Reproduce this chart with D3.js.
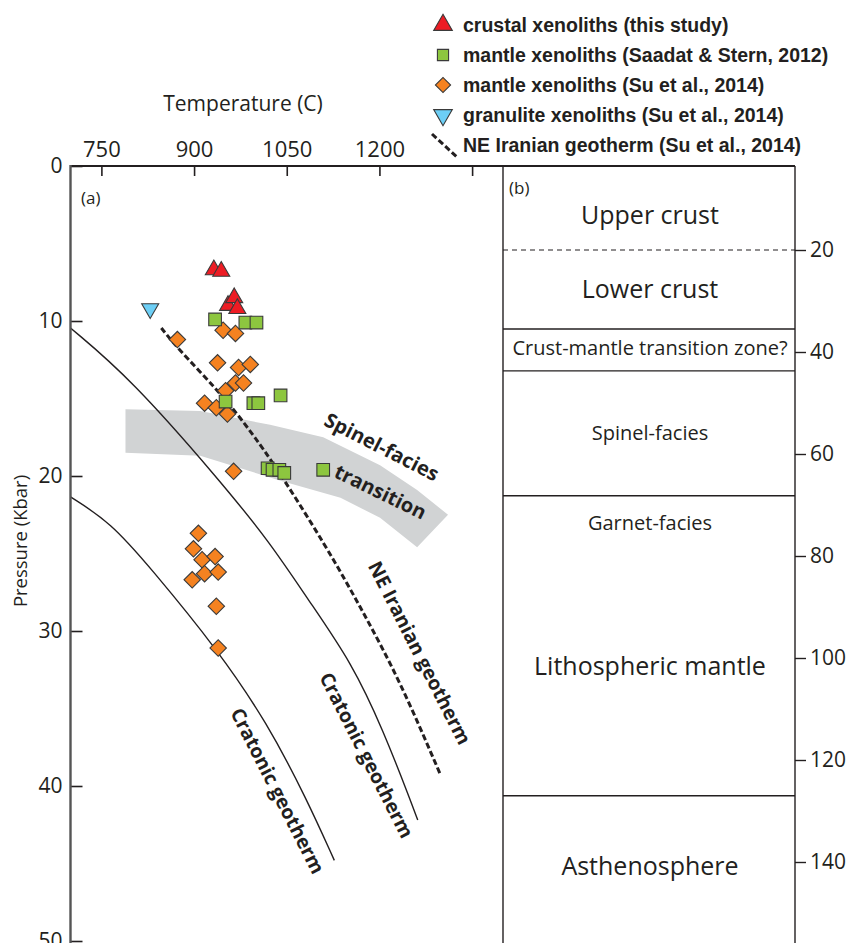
<!DOCTYPE html>
<html>
<head>
<meta charset="utf-8">
<script src="https://cdn.jsdelivr.net/npm/d3@7"></script>
<style>
  body { margin: 0; background: #fff; }
  svg text { fill: #231f20; }
</style>
</head>
<body>
<svg id="chart" width="851" height="943"></svg>
<script>
///////////// data ////////////////
const tempTicks = [750, 900, 1050, 1200, 1350];
const tempTickLabels = ["750", "900", "1050", "1200", ""];
const pressTicks = [0, 10, 20, 30, 40, 50];
const depthTicks = [20, 40, 60, 80, 100, 120, 140];

// [temperature C, pressure kbar]
const crustalXenoliths = [[932, 6.7], [944, 6.8], [955, 9.0], [965, 8.5], [970, 9.2]];
const granuliteXenoliths = [[829, 9.2]];
const saadatXenoliths = [
  [934, 9.9], [983, 10.1], [1001, 10.1], [951, 15.2], [996, 15.3], [1004, 15.3],
  [1040, 14.8], [1019, 19.5], [1027, 19.6], [1038, 19.6], [1046, 19.8], [1109, 19.6]
];
const suXenoliths = [
  [873, 11.2], [947, 10.6], [967, 10.8], [938, 12.7], [972, 13.0], [991, 12.8],
  [967, 14.0], [980, 14.0], [951, 14.5], [917, 15.3], [936, 15.6], [954, 16.0],
  [964, 19.7], [907, 23.7], [899, 24.7], [913, 25.4], [934, 25.2], [917, 26.3],
  [939, 26.2], [897, 26.7], [936, 28.4], [939, 31.1]
];

const neIranGeotherm = [
  [847, 10.45], [872, 11.7], [938, 14.45], [974, 16.2], [1023, 18.8],
  [1115, 24.6], [1174, 28.8], [1233, 33.2], [1298, 39.2]
];
const cratonicGeotherm1 = [
  [700, 10.45], [797, 13.7], [942, 20.3], [1023, 24.3], [1085, 28.0],
  [1156, 32.1], [1206, 36.4], [1250, 40.9], [1262, 42.2]
];
const cratonicGeotherm2 = [
  [700, 21.35], [765, 23.0], [829, 25.9], [938, 31.2], [1018, 35.9],
  [1083, 40.9], [1127, 44.8]
];
const spinelBand = [
  [789, 15.7], [910, 15.8], [1023, 16.7], [1109, 17.5], [1201, 19.3], [1261, 20.9], [1311, 22.5],
  [1261, 24.6], [1201, 22.7], [1137, 21.4], [1040, 20.3], [910, 18.7], [789, 18.5]
];

// panel (b): depth in km
const dashedBoundary = [20];
const solidBoundaries = [35.5, 43.7, 68.2, 127];
const layerNames = ["Upper crust", "Lower crust", "Crust-mantle transition zone?",
  "Spinel-facies", "Garnet-facies", "Lithospheric mantle", "Asthenosphere"];
const layerDepths = [12.9, 27.5, 39.2, 55.7, 73.5, 101.4, 140.6];

const legendLabels = [
  "crustal xenoliths (this study)",
  "mantle xenoliths (Saadat & Stern, 2012)",
  "mantle xenoliths (Su et al., 2014)",
  "granulite xenoliths (Su et al., 2014)",
  "NE Iranian geotherm (Su et al., 2014)"
];

///////////// scales ////////////////
const svg = d3.select("#chart");
const FONT = "'Open Sans', sans-serif";
const ink = "#231f20";

const x = d3.scaleLinear().domain([700, 1400]).range([70.5, 503]);
const y = d3.scaleLinear().domain([0, 50]).range([166, 941]);
const depth = d3.scaleLinear().domain([0, 100]).range([148, 658]);

const panelTop = y(0), panelBottom = 960;
const bLeft = 503, bRight = 795;

///////////// spinel band ////////////////
const line = d3.line().x(d => x(d[0])).y(d => y(d[1]));

svg.append("path")
  .attr("d", line.curve(d3.curveLinearClosed)(spinelBand))
  .attr("fill", "#d1d3d4");

///////////// geotherms ////////////////
const smooth = d3.line().x(d => x(d[0])).y(d => y(d[1])).curve(d3.curveBasis);

[cratonicGeotherm1, cratonicGeotherm2].forEach(function(c) {
  svg.append("path").attr("d", smooth(c))
    .attr("fill", "none").attr("stroke", ink).attr("stroke-width", 1.4);
});
svg.append("path").attr("d", smooth(neIranGeotherm))
  .attr("fill", "none").attr("stroke", ink).attr("stroke-width", 3)
  .attr("stroke-dasharray", "6,3");

///////////// axes ////////////////
const topAxis = d3.axisTop(x).tickValues(tempTicks)
  .tickFormat((d, i) => tempTickLabels[i]).tickSizeInner(-10).tickSizeOuter(0).tickPadding(9);
const gTop = svg.append("g").attr("transform", "translate(0," + panelTop + ")").call(topAxis);
gTop.select(".domain").remove();
gTop.selectAll("line").attr("stroke", ink).attr("stroke-width", 1.6);
gTop.selectAll("text").attr("font-family", FONT).attr("font-size", 22).style("fill", ink);

const leftAxis = d3.axisLeft(y).tickValues(pressTicks).tickSizeInner(-12).tickSizeOuter(0).tickPadding(8);
const gLeft = svg.append("g").attr("transform", "translate(70.5,0)").call(leftAxis);
gLeft.select(".domain").remove();
gLeft.selectAll("line").attr("stroke", ink).attr("stroke-width", 1.6);
gLeft.selectAll("text").attr("font-family", FONT).attr("font-size", 21).style("fill", ink);

const rightAxis = d3.axisRight(depth).tickValues(depthTicks).tickSize(11).tickPadding(4);
const gRight = svg.append("g").attr("transform", "translate(" + bRight + ",0)").call(rightAxis);
gRight.select(".domain").remove();
gRight.selectAll("line").attr("stroke", ink).attr("stroke-width", 1.4);
gRight.selectAll("text").attr("font-family", FONT).attr("font-size", 21).style("fill", ink);

// frame lines
svg.append("line").attr("x1", 70.5).attr("x2", bRight).attr("y1", panelTop).attr("y2", panelTop)
  .attr("stroke", ink).attr("stroke-width", 1.8);
svg.append("line").attr("x1", 70.5).attr("x2", 70.5).attr("y1", panelTop - 1).attr("y2", panelBottom)
  .attr("stroke", "#555").attr("stroke-width", 2.4);
[bLeft, bRight].forEach(function(px) {
  svg.append("line").attr("x1", px).attr("x2", px).attr("y1", panelTop).attr("y2", panelBottom)
    .attr("stroke", ink).attr("stroke-width", 1.4);
});

svg.append("text").attr("x", 243).attr("y", 103).attr("text-anchor", "middle")
  .attr("dominant-baseline", "central").attr("font-family", FONT).attr("font-size", 21)
  .text("Temperature (C)");
svg.append("text").attr("transform", "translate(19,541) rotate(-90)").attr("text-anchor", "middle")
  .attr("dominant-baseline", "central").attr("font-family", FONT).attr("font-size", 18.5)
  .text("Pressure (Kbar)");

svg.append("text").attr("x", 81).attr("y", 197).attr("dominant-baseline", "central")
  .attr("font-family", FONT).attr("font-size", 17).text("(a)");
svg.append("text").attr("x", 509).attr("y", 187).attr("dominant-baseline", "central")
  .attr("font-family", FONT).attr("font-size", 17).text("(b)");

///////////// panel (b) layers ////////////////
svg.selectAll(".bound").data(solidBoundaries).enter().append("line")
  .attr("x1", bLeft).attr("x2", bRight)
  .attr("y1", d => depth(d)).attr("y2", d => depth(d))
  .attr("stroke", ink).attr("stroke-width", 1.4);
svg.selectAll(".dbound").data(dashedBoundary).enter().append("line")
  .attr("x1", bLeft).attr("x2", bRight)
  .attr("y1", d => depth(d)).attr("y2", d => depth(d))
  .attr("stroke", ink).attr("stroke-width", 1.2).attr("stroke-dasharray", "5,4");

svg.selectAll(".layer").data(layerNames).enter().append("text")
  .attr("x", 650)
  .attr("y", (d, i) => depth(layerDepths[i]))
  .attr("text-anchor", "middle").attr("dominant-baseline", "central")
  .attr("font-family", FONT)
  .attr("font-size", d => (d.indexOf("facies") >= 0 || d.indexOf("zone") >= 0) ? 20 : 25)
  .text(d => d);

///////////// curve labels ////////////////
function curveLabel(txt, t, p, angle, size) {
  svg.append("text")
    .attr("transform", "translate(" + x(t) + "," + y(p) + ") rotate(" + angle + ")")
    .attr("text-anchor", "middle").attr("dominant-baseline", "central")
    .attr("font-family", FONT).attr("font-weight", 700).attr("font-size", size)
    .text(txt);
}
curveLabel("Spinel-facies", 1204, 18.1, 27, 20);
curveLabel("transition", 1202, 21.0, 26, 20);
curveLabel("NE Iranian geotherm", 1266, 31.4, 63, 19.5);
curveLabel("Cratonic geotherm", 1180, 38.0, 63, 19.5);
curveLabel("Cratonic geotherm", 1036, 40.3, 63, 19.5);

///////////// markers ////////////////
const tri = d3.symbol().type(d3.symbolTriangle).size(125);
const sq = d3.symbol().type(d3.symbolSquare).size(160);
const dia = d3.symbol().type(d3.symbolSquare).size(135);

function drawMarks(data, sym, fill, rot) {
  svg.append("g").selectAll("path").data(data).enter().append("path")
    .attr("d", sym())
    .attr("transform", d => "translate(" + x(d[0]) + "," + y(d[1]) + ") rotate(" + rot + ")")
    .attr("fill", fill).attr("stroke", "#3a3a3a").attr("stroke-width", 1.1);
}
drawMarks(suXenoliths, dia, "#f58220", 45);
drawMarks(saadatXenoliths, sq, "#8dc63f", 0);
drawMarks(granuliteXenoliths, tri, "#6dcff6", 180);
drawMarks(crustalXenoliths, tri, "#ed1c24", 0);

///////////// legend ////////////////
const legendY = d3.scalePoint().domain(d3.range(legendLabels.length)).range([25, 145]);
const legendSyms = [
  {s: d3.symbol().type(d3.symbolTriangle).size(150), fill: "#ed1c24", rot: 0},
  {s: d3.symbol().type(d3.symbolSquare).size(125), fill: "#8dc63f", rot: 0},
  {s: d3.symbol().type(d3.symbolSquare).size(115), fill: "#f58220", rot: 45},
  {s: d3.symbol().type(d3.symbolTriangle).size(150), fill: "#6dcff6", rot: 180}
];
legendSyms.forEach(function(m, i) {
  svg.append("path").attr("d", m.s())
    .attr("transform", "translate(443," + legendY(i) + ") rotate(" + m.rot + ")")
    .attr("fill", m.fill).attr("stroke", "#3a3a3a").attr("stroke-width", 1.1);
});
svg.append("line").attr("x1", 432).attr("y1", legendY(4) - 11).attr("x2", 458).attr("y2", legendY(4) + 13)
  .attr("stroke", ink).attr("stroke-width", 3).attr("stroke-dasharray", "6,3");

svg.selectAll(".leg").data(legendLabels).enter().append("text")
  .attr("x", 463).attr("y", (d, i) => legendY(i))
  .attr("dominant-baseline", "central")
  .attr("font-family", "'Liberation Sans', Arial, sans-serif")
  .attr("font-weight", 700).attr("font-size", 19.5)
  .text(d => d);
</script>
</body>
</html>
